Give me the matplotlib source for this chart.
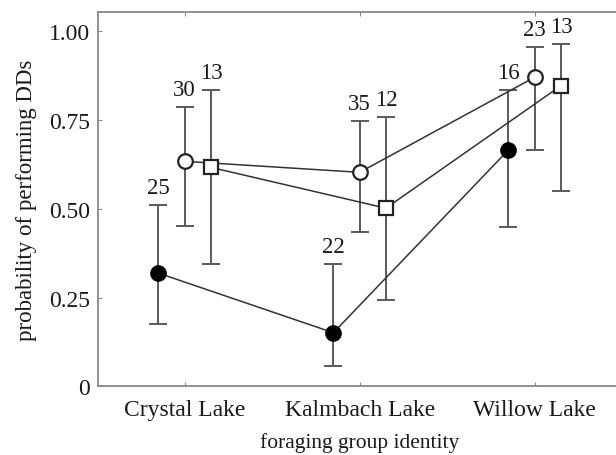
import matplotlib
matplotlib.use("Agg")
import matplotlib.pyplot as plt
import numpy as np

plt.rcParams['font.family'] = ['Liberation Serif', 'DejaVu Serif']

categories = ["Crystal Lake", "Kalmbach Lake", "Willow Lake"]

# filled circles
filled_p = [0.319, 0.151, 0.666]
filled_lo = [0.175, 0.057, 0.448]
filled_hi = [0.512, 0.345, 0.835]
filled_n = ["25", "22", "16"]

# open circles
circ_p = [0.634, 0.603, 0.871]
circ_lo = [0.451, 0.434, 0.666]
circ_hi = [0.786, 0.749, 0.957]
circ_n = ["30", "35", "23"]

# open squares
sq_p = [0.617, 0.502, 0.847]
sq_lo = [0.344, 0.244, 0.550]
sq_hi = [0.835, 0.758, 0.965]
sq_n = ["13", "12", "13"]

fig = plt.figure(figsize=(6.16, 4.56), dpi=100)
ax = fig.add_axes([98/616, 1-387.3/456, 1-98/616+0.01, (387.3-13.3)/456])

x = np.arange(1, len(categories) + 1)
err_color = '#5a5a5a'
line_color = '#333333'

series = [
    (-0.15, filled_p, filled_lo, filled_hi, filled_n, dict(marker='o', ms=11, mfc='black', mec='black')),
    (0.0, circ_p, circ_lo, circ_hi, circ_n, dict(marker='o', ms=10.5, mfc='white', mec='#222222', mew=1.6)),
    (0.15, sq_p, sq_lo, sq_hi, sq_n, dict(marker='s', ms=10, mfc='white', mec='#222222', mew=1.6)),
]

for off, p, lo, hi, n, mk in series:
    xs = x + off
    p = np.array(p); lo = np.array(lo); hi = np.array(hi)
    ax.errorbar(xs, p, yerr=[p - lo, hi - p], fmt='none', ecolor=err_color,
                elinewidth=1.4, capsize=6.5, capthick=1.4, zorder=2)
    ax.plot(xs, p, '-', color=line_color, lw=1.1, zorder=3)
    ax.plot(xs, p, linestyle='none', zorder=4, **mk)
    for xi, hv, lab in zip(xs, hi, n):
        ax.annotate(lab, (xi, hv), xytext=(0, 5), textcoords='offset points',
                    ha='center', va='bottom', fontsize=16.5, color='#1a1a1a')

ax.set_xlim(0.505, 3.5)
ax.set_ylim(0, 1.054)
ax.set_xticks(x)
ax.set_xticklabels(categories)
ax.set_yticks([0, 0.25, 0.5, 0.75, 1.0])
ax.set_yticklabels(["0", "0.25", "0.50", "0.75", "1.00"])
ax.tick_params(axis='both', direction='in', length=3, color='#888888',
               labelsize=17, labelcolor='#1a1a1a', top=True)
ax.tick_params(axis='x', pad=9)
ax.tick_params(axis='y', pad=6)
for s in ['left', 'bottom', 'top']:
    ax.spines[s].set_color('#888888')
    ax.spines[s].set_linewidth(1.3)
ax.spines['right'].set_visible(False)

ax.set_xlabel("foraging group identity", fontsize=15.5, color='#1a1a1a', labelpad=9)
ax.set_ylabel("probability of performing DDs", fontsize=16.5, color='#1a1a1a', labelpad=8)

fig.savefig("out.png", dpi=100)
